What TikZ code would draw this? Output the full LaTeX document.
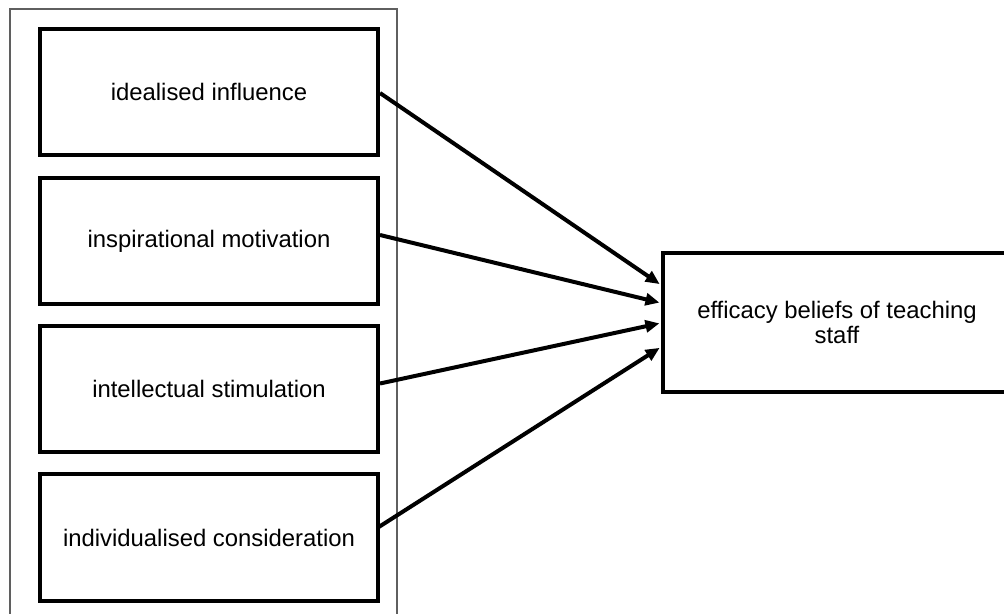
\documentclass[tikz,border=0pt]{standalone}
\usepackage{fontspec}
\setmainfont{Liberation Sans}
\usetikzlibrary{calc,arrows.meta}
\definecolor{framegray}{RGB}{95,95,95}
\tikzset{
  factorbox/.style={draw=black, line width=3pt, rectangle, minimum width=338*0.75pt, minimum height=126*0.75pt, inner sep=0pt, font=\fontsize{17.9}{21.5}\selectfont, align=center},
  outcomebox/.style={draw=black, line width=3pt, rectangle, minimum width=348*0.75pt, minimum height=139*0.75pt, inner sep=0pt, font=\fontsize{17.9}{19.2}\selectfont, align=center},
  link/.style={line width=3pt, -{Triangle[length=10.5pt,width=9pt]}, shorten >=1.2pt},
  frame/.style={draw=framegray, line width=1.2pt}
}
\begin{document}
\begin{tikzpicture}[x=0.75pt,y=-0.75pt]
\useasboundingbox (0,0) rectangle (1004,614);
\clip (0,0) rectangle (1004,614);
\fill[white] (0,0) rectangle (1004,614);
\draw[frame] (10,9) rectangle (397,650);
\node[factorbox] (b1) at (209,92) {idealised influence};
\node[factorbox] (b2) at (209,241) {inspirational motivation};
\node[factorbox] (b3) at (209,388.5) {intellectual stimulation};
\node[factorbox, minimum height=127*0.75pt] (b4) at (209,537.5) {individualised consideration};
\node[outcomebox] (e) at (837,322.5) {efficacy beliefs of teaching\\staff};
\draw[link] ($(b1.east)+(0,1)$) -- ($(e.west)+(0,-37.5)$);
\draw[link] ($(b2.east)+(0,-6)$) -- ($(e.west)+(0,-19.5)$);
\draw[link] ($(b3.east)+(0,-5)$) -- ($(e.west)+(0,0.5)$);
\draw[link] ($(b4.east)+(-2,-10)$) -- ($(e.west)+(0,24.5)$);
\end{tikzpicture}
\end{document}
